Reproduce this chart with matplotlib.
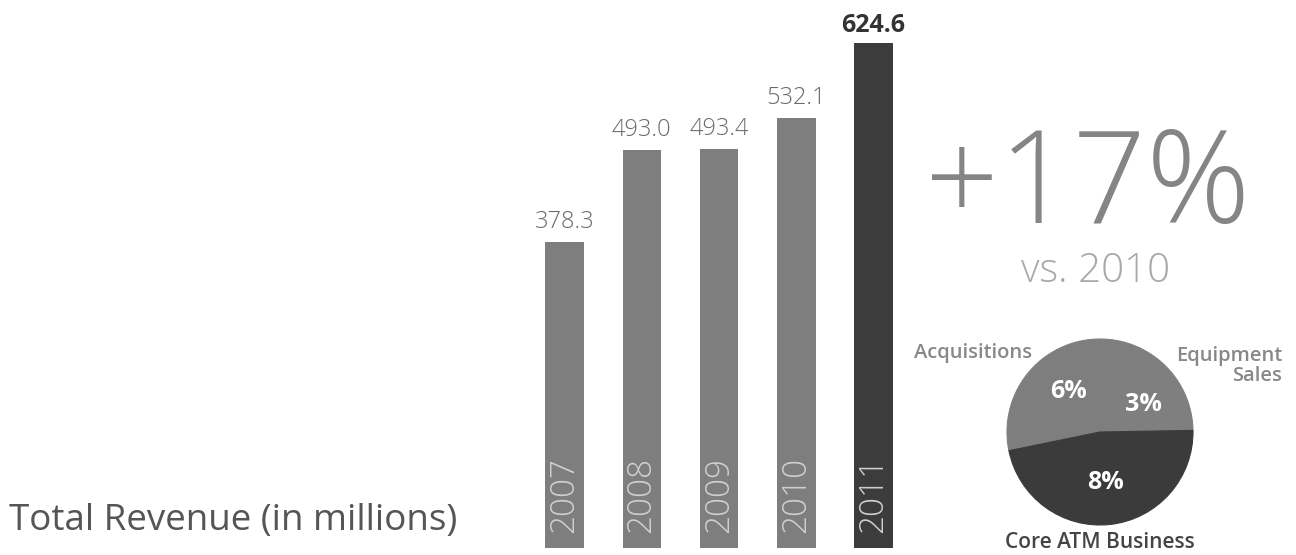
import matplotlib
matplotlib.use("Agg")
import matplotlib.pyplot as plt

# ---- data ----
years = ["2007", "2008", "2009", "2010", "2011"]
revenue = [378.3, 493.0, 493.4, 532.1, 624.6]
value_labels = ["378.3", "493.0", "493.4", "532.1", "624.6"]

growth_label = "+17%"
growth_sub = "vs. 2010"

pie_labels = ["Equipment\nSales", "Acquisitions", "Core ATM Business"]
pie_values = [3, 6, 8]

title = "Total Revenue (in millions)"

# ---- style ----
W, H = 1296, 555
plt.rcParams['font.family'] = ['Open Sans', 'DejaVu Sans']
fig = plt.figure(figsize=(W / 100, H / 100), dpi=100)
fig.patch.set_facecolor("white")


def fx(px):
    return px / W


def fy(py):
    return 1 - py / H


# bar axes
ax = fig.add_axes([fx(526), fy(548), fx(912) - fx(526), fy(0) - fy(548)])
bar_colors = ["#7e7e7e"] * 4 + ["#3c3c3c"]
xs = list(range(len(years)))
ax.bar(xs, revenue, width=0.5, color=bar_colors)
ax.set_xlim(-0.5, len(years) - 0.5)
ax.set_ylim(0, 678)
ax.axis("off")

for i, (v, lab) in enumerate(zip(revenue, value_labels)):
    last = i == len(revenue) - 1
    ax.annotate(lab, (i, v), xytext=(0, 8 if last else 10), textcoords="offset points",
                ha="center", va="baseline",
                fontsize=18 if last else 17,
                fontweight="bold" if last else "light",
                color="#333333" if last else "#6a6a6a")
    ax.annotate(years[i], (i, 0), xytext=(0, 11), textcoords="offset points",
                ha="center", va="bottom", rotation=90,
                fontsize=24, fontweight="light", color="#d0d0d0")

# title
fig.text(fx(9), fy(521), title, ha="left", va="center", fontsize=26.5,
         color="#555555")

# growth text
fig.text(fx(1088), fy(189), growth_label, ha="center", va="center",
         fontsize=93, fontweight="light", color="#858585")
fig.text(fx(1096), fy(271), growth_sub, ha="center", va="center",
         fontsize=29, fontweight="light", color="#a8a8a8")

# pie
r = 93
pax = fig.add_axes([fx(1100 - r), fy(432 + r), 2 * r / W, 2 * r / H])
total = sum(pie_values)
wedges, _, autotexts = pax.pie(
    pie_values, colors=["#7f7f7f", "#7e7e7e", "#3b3b3b"], startangle=1,
    counterclock=True, radius=1,
    autopct=lambda p: f"{p * total / 100:.0f}%", pctdistance=0.55,
    textprops=dict(color="white", fontsize=18, fontweight="bold"))
for w in wedges:
    w.set_edgecolor(w.get_facecolor())
    w.set_linewidth(0.8)
pax.set_xlim(-1, 1)
pax.set_ylim(-1, 1)
pax.set_aspect("equal")
pax.axis("off")

pax.text(1.96, 0.71, pie_labels[0], ha="right", va="center", ma="right",
         fontsize=14.5, fontweight="semibold", color="#888888", linespacing=1.0)
pax.text(-0.73, 0.85, pie_labels[1], ha="right", va="center",
         fontsize=14.5, fontweight="semibold", color="#888888")
pax.text(0, -1.19, pie_labels[2], ha="center", va="center",
         fontsize=15, fontweight="semibold", color="#444444")

fig.savefig("out.png", dpi=100, facecolor="white")
